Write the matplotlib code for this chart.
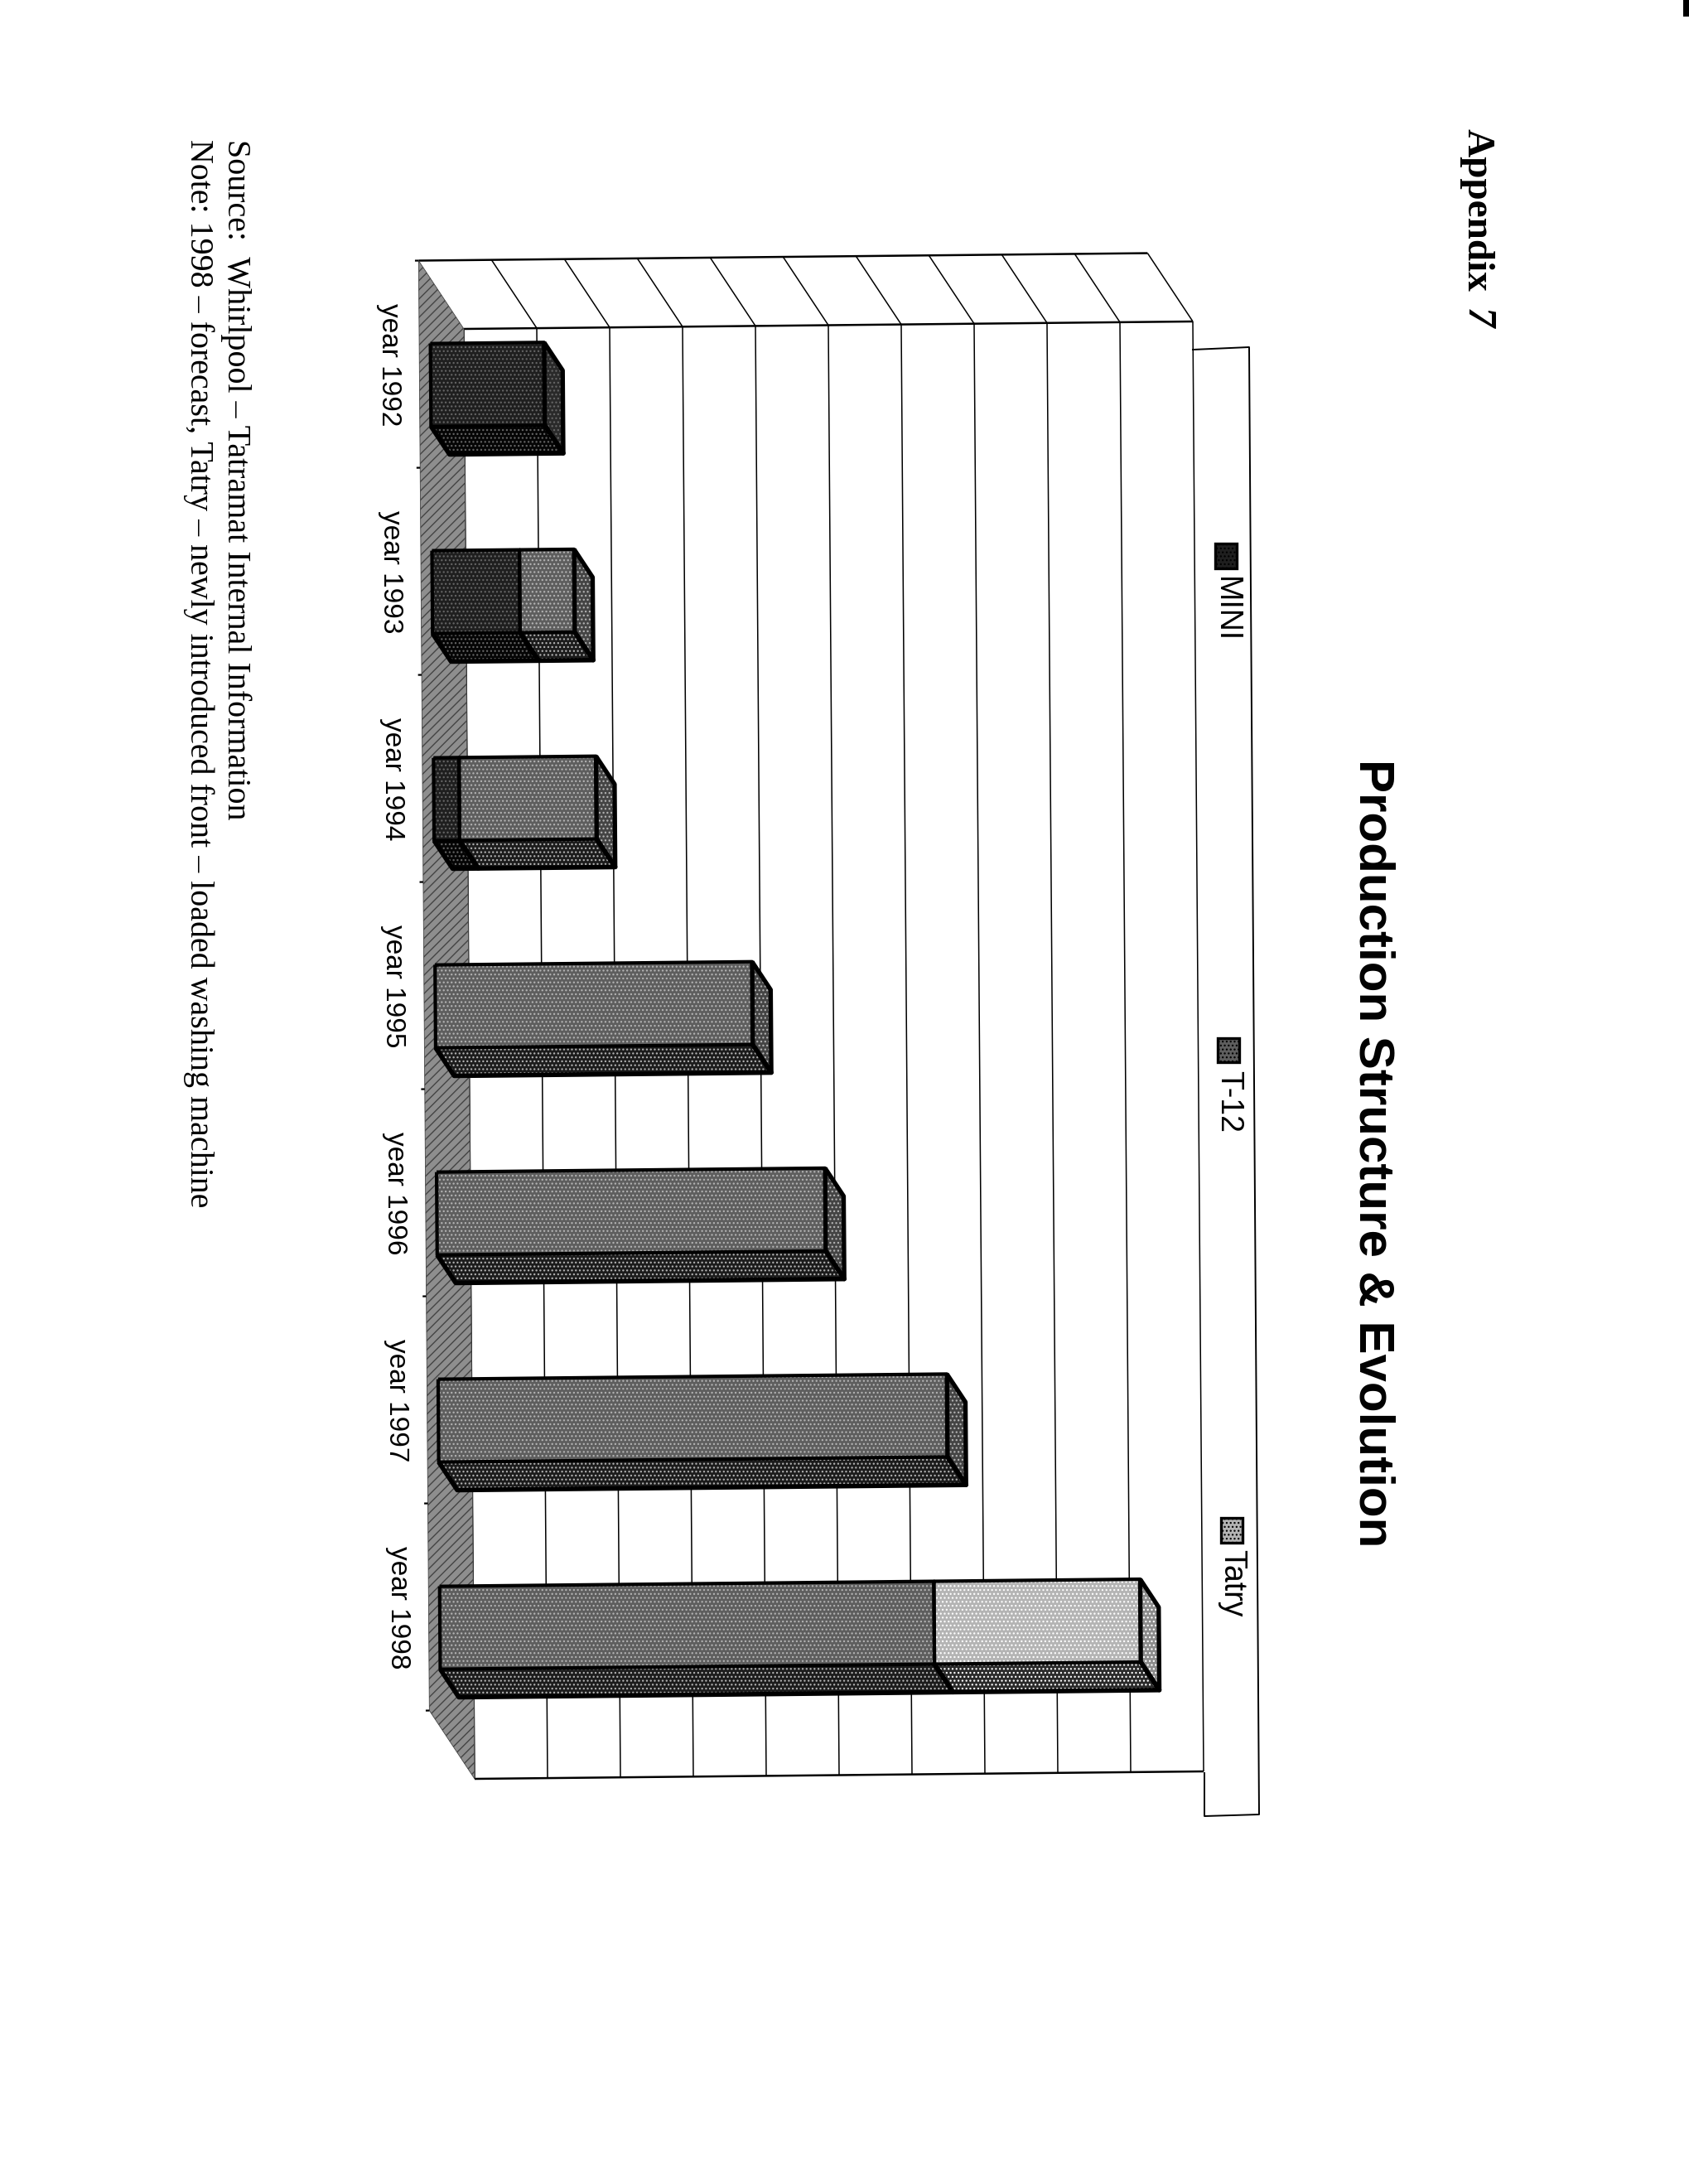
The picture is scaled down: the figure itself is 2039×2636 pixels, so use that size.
import numpy as np
import matplotlib
matplotlib.use('Agg')
import matplotlib.pyplot as plt
from matplotlib.transforms import Affine2D

W, H = 2040, 2636

# chart values (one grid step = 1 unit)
years = ['year 1992', 'year 1993', 'year 1994', 'year 1995', 'year 1996', 'year 1997', 'year 1998']
mini = [1.56, 1.20, 0.35, 0, 0, 0, 0]
t12 = [0, 0.75, 1.88, 4.35, 5.33, 6.98, 6.78]
tatry = [0, 0, 0, 0, 0, 0, 2.83]
grid_steps = list(range(11))

series_names = ['MINI', 'T-12', 'Tatry']
series_values = [mini, t12, tatry]
# face, bottom strip, right strip, dot hatch
looks = [('#1f1f1f', '#050505', '#2a2a2a', '#666666'),
         ('#5e5e5e', '#1c1c1c', '#444444', '#b4b4b4'),
         ('#b4b4b4', '#2a2a2a', '#8c8c8c', '#ffffff')]

plt.rcParams['hatch.linewidth'] = 0.5
fig = plt.figure(figsize=(W / 200, H / 200), dpi=200, facecolor='white')


def fx(px):
    return px / W


def fy(py):
    return 1 - py / H


# axes sit on the front plane of the 3D box; the page is turned 90 degrees
ax = fig.add_axes([fx(560), fy(2147), fx(1440) - fx(560), fy(397) - fy(2147)])
ax.set_xlim(0, 10)
ax.set_ylim(6.5, -0.5)
ax.axis('off')
ax.set_autoscale_on(False)

# scan is slightly skewed
skew = Affine2D(np.array([[1, 0.0211, 0.0105], [-0.0036, 1, 0], [0, 0, 1]]))
tr = skew + ax.transData

DX, DY = -0.614, -0.332  # front plane -> back plane


def depth(x, y, f):
    # f = 0 is the back plane, f = 1 the front plane
    return np.asarray(x, float) + (1 - f) * DX, np.asarray(y, float) + (1 - f) * DY


line_kw = dict(color='black', lw=0.55, transform=tr, clip_on=False, solid_capstyle='butt')

# grid on the front plane and on the top side
for g in grid_steps:
    ax.plot([g, g], [-0.5, 6.5], zorder=1, **line_kw)
    bx, by = depth(g, -0.5, 0)
    if g > 0:
        ax.plot([g, bx], [-0.5, by], zorder=1, **line_kw)
bx0, by0 = depth(0, -0.5, 0)
bx1, by1 = depth(10, -0.5, 0)
ax.plot([0, 10], [-0.5, -0.5], zorder=1, **dict(line_kw, lw=0.9))
ax.plot([0, 10], [6.5, 6.5], zorder=1, **dict(line_kw, lw=0.9))
ax.plot([bx0, bx1], [by0, by1], zorder=1, **dict(line_kw, lw=0.9))

# floor
bfx, bfy = depth([0, 0], [-0.5, 6.5], 0)
ax.fill([0, bfx[0], bfx[1], 0], [-0.5, bfy[0], bfy[1], 6.5], facecolor='#8e8e8e', edgecolor='#444444',
        hatch='//////', lw=0.3, transform=tr, clip_on=False, zorder=2)

# category ticks on the back edge of the floor
for i in range(len(years) + 1):
    tx, ty = depth(0, i - 0.5, 0)
    ax.plot([tx - 0.05, tx], [ty, ty], zorder=2, **dict(line_kw, lw=0.8))

# year labels
for i, label in enumerate(years):
    tx, ty = depth(-0.42, i, 0)
    ax.text(tx, ty, label, transform=tr, rotation=270, ha='center', va='center',
            family='Liberation Sans', fontsize=12, clip_on=False)

# bars
half = 0.2
face_f, out_f = 0.25, 0.66
nudge = 0.018
for i in range(len(years)):
    left = 0
    vals = [s[i] for s in series_values]
    last = max(k for k, v in enumerate(vals) if v > 0)
    c = i + nudge
    for k, v in enumerate(vals):
        if v <= 0:
            continue
        face, bottom, side, dots = looks[k]
        x0, yt = depth(left, c - half, face_f)
        x1, yb = depth(left + v, c + half, face_f)
        x0o, ybo = depth(left, c + half, out_f)
        x1o, yto = depth(left + v, c - half, out_f)
        # bottom strip
        ax.fill([x0, x1, x1o, x0o], [yb, yb, ybo, ybo], facecolor=bottom, edgecolor=dots, hatch='.......',
                lw=0, transform=tr, clip_on=False, zorder=3)
        if k == last:
            ax.fill([x1, x1o, x1o, x1], [yt, yto, ybo, yb], facecolor=side, edgecolor=dots, hatch='.......',
                    lw=0, transform=tr, clip_on=False, zorder=3)
            ax.plot([x1, x1o, x1o, x1, x1], [yt, yto, ybo, yb, yt], zorder=5, **dict(line_kw, lw=1.9))
        ax.barh((yt + yb) / 2, v, height=yb - yt, left=x0, color=face,
                edgecolor=dots, hatch='.......', lw=0, transform=tr, clip_on=False, zorder=4)
        ax.plot([x0, x1, x1, x0, x0], [yt, yt, yb, yb, yt], zorder=5, **dict(line_kw, lw=1.5))
        ax.plot([x1, x1o, x0o, x0], [yb, ybo, ybo, yb], zorder=5, **dict(line_kw, lw=2.0))
        left += v

# everything else is page furniture, placed in page pixels
page = fig.add_axes([0, 0, 1, 1], facecolor='none')
page.set_xlim(0, W)
page.set_ylim(H, 0)
page.axis('off')

# legend frame
page.plot([1440, 1508, 1520, 1454, 1454], [422, 419, 2190, 2192, 2140], color='black', lw=0.7)
legend_y = [(656, 686, 696), (1253, 1282, 1292), (1832, 1862, 1870)]
for k, name in enumerate(series_names):
    y0, y1, ytext = legend_y[k]
    swatch_x = 1467 + k * 3.5
    page.fill([swatch_x, swatch_x + 26, swatch_x + 26, swatch_x], [y0, y0, y1, y1],
              facecolor=looks[k][0], edgecolor='black', hatch='.......', lw=1.0)
    page.fill([swatch_x, swatch_x + 26, swatch_x + 26, swatch_x], [y0, y0, y1, y1],
              facecolor='none', edgecolor='black', lw=1.2)
    page.text(swatch_x + 13, ytext, name, rotation=270, ha='center', va='top',
              family='Liberation Sans', fontsize=13.5)

page.text(1657, 1392, 'Production Structure & Evolution', rotation=270, ha='center', va='center',
          family='Liberation Sans', fontweight='bold', fontsize=21.6)
page.text(1783, 155, 'Appendix', rotation=270, ha='center', va='top',
          family='Liberation Serif', fontweight='bold', fontsize=17)
page.text(1783, 372, '7', rotation=270, ha='center', va='top',
          family='Liberation Serif', fontweight='bold', fontstyle='italic', fontsize=17.5)
page.text(285, 168, 'Source:  Whirlpool – Tatramat Internal Information', rotation=270, ha='center', va='top',
          family='Liberation Serif', fontsize=14.4)
page.text(240, 168, 'Note: 1998 – forecast, Tatry – newly introduced front – loaded washing machine',
          rotation=270, ha='center', va='top', family='Liberation Serif', fontsize=14.4)

# scanner mark in the corner
page.fill([2032, 2040, 2040, 2032], [0, 0, 20, 20], color='black', lw=0)

fig.savefig('out.png', dpi=200)
